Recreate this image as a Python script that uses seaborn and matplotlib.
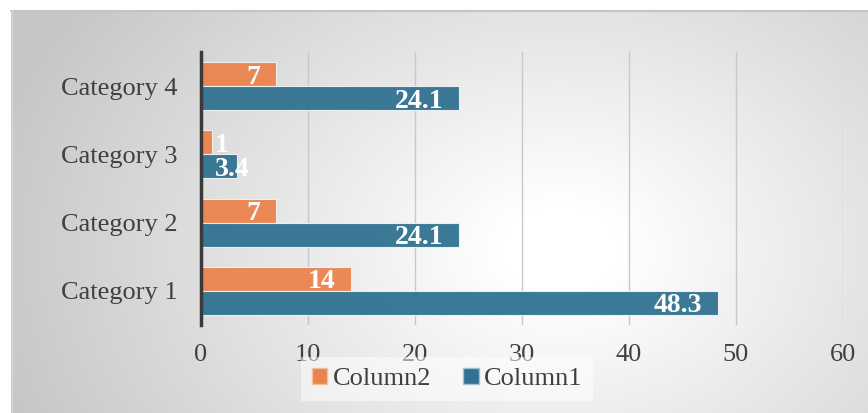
import numpy as np
import pandas as pd
import matplotlib
matplotlib.use("Agg")
import matplotlib.pyplot as plt
import seaborn as sns
from matplotlib.patches import Rectangle

categories = ["Category 1", "Category 2", "Category 3", "Category 4"]
column1 = [48.3, 24.1, 3.4, 24.1]
column2 = [14, 7, 1, 7]
series_names = ["Column2", "Column1"]
x_ticks = [0, 10, 20, 30, 40, 50, 60]

df = pd.DataFrame({
    "category": categories * 2,
    "value": column2 + column1,
    "series": ["Column2"] * 4 + ["Column1"] * 4,
})

sns.set_theme(style="white")
plt.rcParams["font.family"] = ["Liberation Serif", "DejaVu Serif"]

W, H = 868, 413
fig = plt.figure(figsize=(W / 100, H / 100), dpi=100)

# background gradient
bg = fig.add_axes([0, 0, 1, 1], zorder=-10)
yy, xx = np.mgrid[0:H, 0:W]
cx, cy = 560, 250
r = np.sqrt(((xx - cx) / 1.0) ** 2 + ((yy - cy) / 0.75) ** 2)
t = np.clip((r - 60) / 520, 0, 1)
val = 1.0 - 0.22 * t
img = np.dstack([val, val, val])
frame_mask = (xx >= 11) & (yy >= 10)
img[~frame_mask] = 1.0
bg.imshow(img, extent=[0, W, H, 0], aspect="auto", interpolation="bilinear")
bg.plot([11, W], [10.5, 10.5], color="#c4c4c4", lw=1.5)
bg.plot([11.5, 11.5], [10, H], color="#d8d8d8", lw=1)
bg.set_xlim(0, W)
bg.set_ylim(H, 0)
bg.axis("off")

ax = fig.add_axes([201 / W, 1 - 325 / H, (843 - 201) / W, (325 - 52) / H])
ax.patch.set_alpha(0)

orange = "#EB834D"
blue = "#2F7190"
order = ["Category 4", "Category 3", "Category 2", "Category 1"]
sns.barplot(data=df, y="category", x="value", hue="series", order=order,
            hue_order=series_names, palette=[orange, blue], width=0.7,
            saturation=1, orient="h", ax=ax, edgecolor="#f2f2f2", linewidth=0.8,
            legend=False, zorder=3, alpha=0.94)

ax.set_xlim(0, 60)
ax.set_ylim(3.5, -0.5)
ax.set_xticks(x_ticks)
ax.set_xticklabels([str(v) for v in x_ticks])
ax.grid(axis="x", color="#c8c8c8", lw=1, zorder=0)
ax.grid(axis="y", visible=False)
for s in ["top", "right", "bottom"]:
    ax.spines[s].set_visible(False)
ax.spines["left"].set_color("#3a3a3a")
ax.spines["left"].set_linewidth(2.5)
ax.spines["left"].set_zorder(5)
ax.tick_params(axis="x", length=0, pad=14, labelsize=19, labelcolor="#404040")
ax.tick_params(axis="y", length=0, pad=17, labelsize=19, labelcolor="#404040")
ax.set_xlabel("")
ax.set_ylabel("")

# value labels
for container in ax.containers:
    for bar in container.patches:
        v = bar.get_width()
        yc = bar.get_y() + bar.get_height() / 2
        lab = f"{v:g}"
        if v < 5:
            ax.text(1.3, yc, lab, ha="left", va="center_baseline", color="white",
                    fontsize=20, fontweight="bold", zorder=6)
        else:
            ax.text(v - 1.45, yc, lab, ha="right", va="center_baseline", color="white",
                    fontsize=20, fontweight="bold", zorder=6)

handles = [Rectangle((0, 0), 1, 1, facecolor=orange, edgecolor="#f0c0a0"),
           Rectangle((0, 0), 1, 1, facecolor=blue, edgecolor="#a0c0d0")]
leg = fig.legend(handles, series_names, loc="center", bbox_to_anchor=(447 / W, 1 - 379 / H),
                 ncol=2, frameon=True, fontsize=19, handlelength=0.6, handleheight=0.6,
                 handletextpad=0.2, columnspacing=1.2, borderpad=0.4, fancybox=False)
leg.get_frame().set_facecolor("white")
leg.get_frame().set_alpha(0.5)
leg.get_frame().set_edgecolor("none")
for txt in leg.get_texts():
    txt.set_color("#404040")

fig.savefig("out.png", dpi=100)
